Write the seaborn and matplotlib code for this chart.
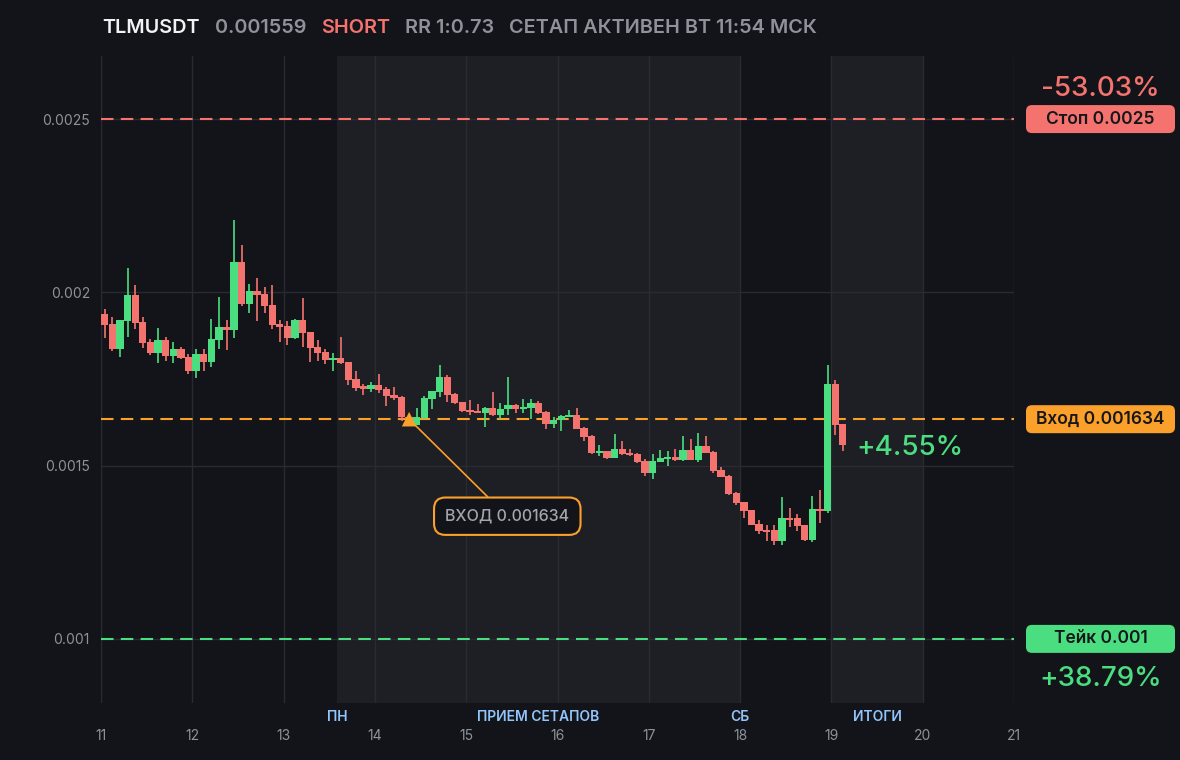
###*** TLMUSDT short setup, 2h candles
import numpy as np
import pandas as pd
import matplotlib
matplotlib.use('Agg')
import matplotlib.pyplot as plt
from matplotlib.patches import FancyBboxPatch
import seaborn as sns

### candles (2h)
opens = [0.001937, 0.001908, 0.001836, 0.001917, 0.001991, 0.001913, 0.001856, 0.001825, 0.001862, 0.001816,
         0.001836, 0.001813, 0.001772, 0.001821, 0.001798, 0.001862, 0.001899, 0.001891, 0.002089, 0.001966,
         0.002003, 0.001994, 0.001963, 0.001908, 0.001902, 0.001868, 0.001919, 0.001885, 0.001841, 0.001827,
         0.001805, 0.001810, 0.001798, 0.001749, 0.001729, 0.001720, 0.001732, 0.001720, 0.001703, 0.001697,
         0.001640, 0.001618, 0.001637, 0.001692, 0.001712, 0.001755, 0.001706, 0.001683, 0.001660, 0.001657,
         0.001651, 0.001666, 0.001646, 0.001663, 0.001674, 0.001663, 0.001666, 0.001680, 0.001654, 0.001620,
         0.001631, 0.001640, 0.001646, 0.001608, 0.001585, 0.001536, 0.001542, 0.001522, 0.001548, 0.001536,
         0.001533, 0.001513, 0.001478, 0.001510, 0.001519, 0.001524, 0.001516, 0.001545, 0.001516, 0.001556,
         0.001539, 0.001487, 0.001470, 0.001421, 0.001395, 0.001372, 0.001331, 0.001314, 0.001314, 0.001282,
         0.001349, 0.001349, 0.001328, 0.001285, 0.001374, 0.001369, 0.001735, 0.001620]
highs = [0.001951, 0.001928, 0.001919, 0.002069, 0.002020, 0.001928, 0.001864, 0.001896, 0.001870, 0.001856,
         0.001841, 0.001821, 0.001836, 0.001836, 0.001922, 0.001988, 0.001919, 0.002208, 0.002136, 0.002023,
         0.002040, 0.002014, 0.002020, 0.001919, 0.001916, 0.001922, 0.001983, 0.001885, 0.001862, 0.001836,
         0.001824, 0.001870, 0.001798, 0.001773, 0.001735, 0.001741, 0.001764, 0.001726, 0.001726, 0.001700,
         0.001645, 0.001666, 0.001700, 0.001715, 0.001790, 0.001761, 0.001709, 0.001683, 0.001689, 0.001677,
         0.001669, 0.001712, 0.001680, 0.001755, 0.001677, 0.001692, 0.001692, 0.001686, 0.001657, 0.001640,
         0.001646, 0.001660, 0.001666, 0.001611, 0.001588, 0.001559, 0.001542, 0.001590, 0.001571, 0.001548,
         0.001536, 0.001519, 0.001533, 0.001545, 0.001542, 0.001548, 0.001585, 0.001576, 0.001594, 0.001585,
         0.001542, 0.001496, 0.001473, 0.001424, 0.001395, 0.001372, 0.001343, 0.001328, 0.001328, 0.001409,
         0.001377, 0.001360, 0.001328, 0.001412, 0.001430, 0.001790, 0.001746, 0.001620]
lows = [0.001868, 0.001830, 0.001814, 0.001871, 0.001894, 0.001840, 0.001819, 0.001796, 0.001802, 0.001796,
        0.001808, 0.001765, 0.001753, 0.001773, 0.001785, 0.001836, 0.001834, 0.001868, 0.001960, 0.001940,
        0.001917, 0.001940, 0.001894, 0.001857, 0.001848, 0.001865, 0.001842, 0.001799, 0.001802, 0.001793,
        0.001773, 0.001793, 0.001733, 0.001716, 0.001704, 0.001713, 0.001709, 0.001672, 0.001690, 0.001628,
        0.001622, 0.001617, 0.001634, 0.001663, 0.001697, 0.001683, 0.001677, 0.001654, 0.001646, 0.001651,
        0.001611, 0.001643, 0.001634, 0.001646, 0.001651, 0.001651, 0.001634, 0.001648, 0.001605, 0.001608,
        0.001600, 0.001640, 0.001605, 0.001571, 0.001533, 0.001527, 0.001519, 0.001522, 0.001530, 0.001527,
        0.001507, 0.001470, 0.001461, 0.001510, 0.001500, 0.001513, 0.001513, 0.001516, 0.001510, 0.001536,
        0.001478, 0.001467, 0.001415, 0.001386, 0.001349, 0.001328, 0.001302, 0.001282, 0.001271, 0.001271,
        0.001323, 0.001311, 0.001282, 0.001279, 0.001334, 0.001363, 0.001588, 0.001542]
closes = [0.001905, 0.001836, 0.001919, 0.001991, 0.001912, 0.001854, 0.001825, 0.001862, 0.001816, 0.001836,
          0.001811, 0.001772, 0.001821, 0.001798, 0.001864, 0.001899, 0.001891, 0.002089, 0.001966, 0.002003,
          0.001991, 0.001960, 0.001905, 0.001899, 0.001868, 0.001919, 0.001883, 0.001840, 0.001825, 0.001805,
          0.001810, 0.001796, 0.001747, 0.001724, 0.001720, 0.001732, 0.001718, 0.001700, 0.001695, 0.001640,
          0.001625, 0.001640, 0.001695, 0.001715, 0.001755, 0.001703, 0.001680, 0.001657, 0.001654, 0.001651,
          0.001666, 0.001646, 0.001663, 0.001674, 0.001663, 0.001669, 0.001680, 0.001651, 0.001620, 0.001631,
          0.001643, 0.001646, 0.001605, 0.001582, 0.001536, 0.001542, 0.001522, 0.001548, 0.001533, 0.001530,
          0.001510, 0.001478, 0.001513, 0.001522, 0.001524, 0.001516, 0.001545, 0.001516, 0.001556, 0.001536,
          0.001484, 0.001467, 0.001418, 0.001392, 0.001369, 0.001328, 0.001311, 0.001308, 0.001282, 0.001349,
          0.001343, 0.001325, 0.001285, 0.001374, 0.001369, 0.001735, 0.001617, 0.001559]

first_day = 11
candles_per_day = 12
day_ticks = list(range(11, 22))

### setup levels
symbol = 'TLMUSDT'
last_price = '0.001559'
side = 'SHORT'
rr_text = 'RR 1:0.73'
status_text = 'СЕТАП АКТИВЕН ВТ 11:54 МСК'
stop_price = 0.0025
entry_price = 0.001634
take_price = 0.001
entry_idx = 40
stop_pct = '-53.03%'
take_pct = '+38.79%'
now_pct = '+4.55%'
y_ticks = [0.001, 0.0015, 0.002, 0.0025]
y_tick_labels = ['0.001', '0.0015', '0.002', '0.0025']

### sessions (shaded) and their labels
sessions = [(13.583, 18.0), (19.0, 20.0)]

BG = '#131419'
SHADE = '#1e1f24'
GRID = '#2a2b31'
RED = '#f4736f'
GREEN = '#4ade80'
ORANGE = '#fba02a'
GREY = '#8f929a'
BLUE = '#93c5fd'

sns.set_theme(style='dark', rc={
    'figure.facecolor': BG, 'axes.facecolor': BG, 'axes.edgecolor': BG,
    'axes.grid': True, 'grid.color': GRID, 'grid.linewidth': 1.0,
    'xtick.color': GREY, 'ytick.color': GREY, 'text.color': GREY,
    'axes.axisbelow': True,
})
plt.rcParams['font.family'] = ['Inter', 'DejaVu Sans']

df = pd.DataFrame({'open': opens, 'high': highs, 'low': lows, 'close': closes})
df['t'] = first_day + (np.arange(len(df)) + 0.5) / candles_per_day
df['color'] = np.where(df['close'] >= df['open'], GREEN, RED)

fig = plt.figure(figsize=(11.8, 7.6), dpi=100)
ax = fig.add_axes([101 / 1180, 1 - 703 / 760, 913 / 1180, 647 / 760])

for a, b in sessions:
    ax.axvspan(a, b, color=SHADE, lw=0, zorder=0.1)

### wicks + bodies
ax.vlines(df['t'], df['low'], df['high'], colors=df['color'], lw=1.2, zorder=3)
body_lo = df[['open', 'close']].min(axis=1)
body_h = (df['close'] - df['open']).abs().clip(lower=4e-6)
ax.bar(df['t'], body_h, bottom=body_lo, width=0.08, color=df['color'], lw=0, zorder=4)

### levels
ax.axhline(stop_price, color=RED, lw=1.5, ls=(0, (6, 3.5)), zorder=2)
ax.axhline(entry_price, color=ORANGE, lw=1.5, ls=(0, (6, 3.5)), zorder=2)
ax.axhline(take_price, color=GREEN, lw=1.5, ls=(0, (6, 3.5)), zorder=2)

t_entry = df['t'].iloc[entry_idx]
sns.scatterplot(x=[t_entry], y=[entry_price], marker='^', s=110, color=ORANGE,
                edgecolor='none', ax=ax, zorder=6)
ax.annotate('ВХОД ' + str(entry_price), xy=(t_entry, entry_price), xytext=(15.45, 0.001354),
            ha='center', va='center', fontsize=11.5, fontweight='medium', color='#a3a6ad', zorder=7,
            bbox=dict(boxstyle='round,pad=0.7,rounding_size=0.7', fc=BG, ec=ORANGE, lw=1.5),
            arrowprops=dict(arrowstyle='-', color=ORANGE, lw=1.2, shrinkA=0, shrinkB=6))
ax.annotate(now_pct, xy=(df['t'].iloc[-1], entry_price), xytext=(10, -21),
            textcoords='offset points', ha='left', va='center', fontsize=20,
            fontweight='medium', color=GREEN)

ax.set_xlim(11, 21)
ax.set_ylim(0.000815, 0.002682)
ax.set_xticks(day_ticks)
ax.set_xticklabels([str(d) for d in day_ticks], fontsize=10)
ax.set_yticks(y_ticks)
ax.set_yticklabels(y_tick_labels, fontsize=10)
ax.tick_params(axis='x', length=0, pad=19)
ax.tick_params(axis='y', length=0, pad=8)
for s in ax.spines.values():
    s.set_visible(False)

### session labels under the axis
lab_tr = ax.get_xaxis_transform()
sess_labels = [('ПН', sessions[0][0]), ('ПРИЕМ СЕТАПОВ', (sessions[0][0] + sessions[0][1]) / 2),
               ('СБ', sessions[0][1]), ('ИТОГИ', (sessions[1][0] + sessions[1][1]) / 2)]
for txt, x in sess_labels:
    ax.text(x, -0.0216, txt, transform=lab_tr, ha='center', va='center',
            fontsize=10, fontweight='semibold', color=BLUE)

### right side level tags (pixel overlay)
ov = fig.add_axes([0, 0, 1, 1], zorder=10)
ov.set_xlim(0, 1180)
ov.set_ylim(0, 760)
ov.axis('off')
ov.patch.set_alpha(0)

tags = [('Стоп ' + str(stop_price), stop_price, RED, stop_pct, 30),
        ('Вход ' + str(entry_price), entry_price, ORANGE, None, 0),
        ('Тейк ' + str(take_price), take_price, GREEN, take_pct, -40)]
for label, price, col, pct, off in tags:
    y = ax.transData.transform((11, price))[1]
    ov.add_patch(FancyBboxPatch((1026, y - 14), 149, 28, boxstyle='round,pad=0,rounding_size=6',
                                fc=col, ec='none'))
    ov.text(1100.5, y, label, ha='center', va='center', fontsize=12.5, color='#16171b',
            fontweight='semibold')
    if pct:
        ov.text(1100.5, y + off, pct, ha='center', va='center', fontsize=20,
                fontweight='medium', color=col)

### title line
renderer = fig.canvas.get_renderer()
x = 102
for txt, col in [(symbol, '#f1f2f4'), (last_price, GREY), (side, RED), (rr_text, GREY), (status_text, GREY)]:
    t = ov.text(x, 732, txt, ha='left', va='center', fontsize=14.3, fontweight='semibold', color=col)
    bb = t.get_window_extent(renderer)
    x = bb.x1 + 15

fig.savefig('out.png', dpi=100, facecolor=BG)
